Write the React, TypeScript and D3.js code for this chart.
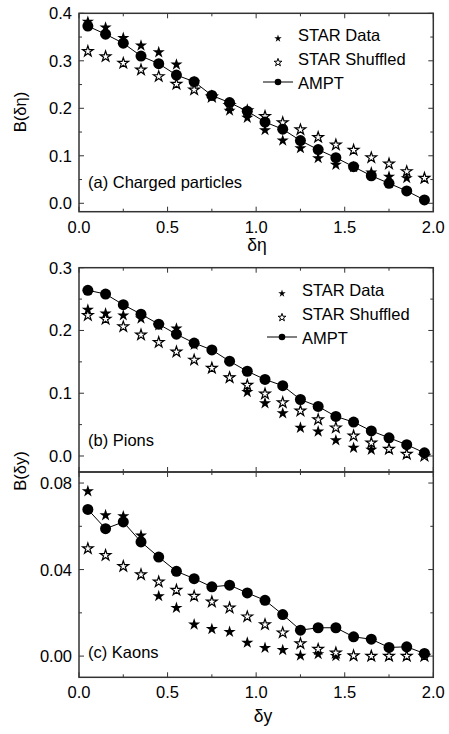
import React from 'react';
import * as d3 from 'd3';

const width = 449;
const height = 734;
const font = '"Liberation Sans", Arial, Helvetica, sans-serif';
const left = 79;
const right = 433.3;

// bin centres (delta eta for (a), delta y for (b) and (c))
const bins = [0.05, 0.15, 0.25, 0.35, 0.45, 0.55, 0.65, 0.75, 0.85, 0.95,
  1.05, 1.15, 1.25, 1.35, 1.45, 1.55, 1.65, 1.75, 1.85, 1.95];

// (a) charged particles
const chargedData = [0.382, 0.370, 0.348, 0.332, 0.318, 0.292, 0.255, 0.225, 0.195, 0.180,
  0.154, 0.132, 0.116, 0.095, 0.081, 0.076, 0.065, 0.056, 0.053, 0.052];
const chargedShuffled = [0.320, 0.309, 0.295, 0.281, 0.267, 0.251, 0.239, 0.224, 0.206, 0.195,
  0.183, 0.170, 0.155, 0.139, 0.123, 0.112, 0.096, 0.083, 0.067, 0.053];
const chargedAmpt = [0.373, 0.356, 0.337, 0.310, 0.294, 0.270, 0.256, 0.227, 0.212, 0.194,
  0.171, 0.156, 0.132, 0.113, 0.096, 0.077, 0.058, 0.042, 0.026, 0.007];

// (b) pions
const pionData = [0.233, 0.227, 0.224, 0.219, 0.208, 0.203, 0.177, 0.140, 0.125, 0.102,
  0.084, 0.068, 0.045, 0.039, 0.025, 0.013, 0.010, 0.011, 0.003, 0.000];
const pionShuffled = [0.224, 0.218, 0.206, 0.193, 0.181, 0.166, 0.153, 0.140, 0.125, 0.113,
  0.099, 0.085, 0.072, 0.058, 0.045, 0.032, 0.021, 0.011, 0.003, 0.000];
const pionAmpt = [0.264, 0.258, 0.241, 0.226, 0.210, 0.194, 0.180, 0.169, 0.151, 0.135,
  0.122, 0.112, 0.090, 0.079, 0.063, 0.054, 0.040, 0.029, 0.018, 0.005];

// (c) kaons
const kaonData = [0.0762, 0.0651, 0.0646, 0.0558, 0.0277, 0.0223, 0.0146, 0.0125, 0.0112, 0.0062,
  0.0038, 0.0028, 0.0002, 0.0009, 0.0000, 0.0000, 0.0000, 0.0000, 0.0000, 0.0000];
const kaonShuffled = [0.0497, 0.0466, 0.0415, 0.0377, 0.0343, 0.0305, 0.0277, 0.0251, 0.0223, 0.0182,
  0.0146, 0.0108, 0.0058, 0.0032, 0.0015, 0.0002, 0.0000, 0.0000, 0.0000, 0.0000];
const kaonAmpt = [0.0678, 0.0589, 0.0620, 0.0528, 0.0458, 0.0392, 0.0358, 0.0320, 0.0328, 0.0292,
  0.0258, 0.0192, 0.0120, 0.0131, 0.0131, 0.0089, 0.0078, 0.0040, 0.0043, 0.0012];

// ticks
const xTicks = [0, 0.5, 1.0, 1.5, 2.0];
const xMinor = [0.25, 0.75, 1.25, 1.75];
const yTicksA = [0, 0.1, 0.2, 0.3, 0.4];
const yMinorA = [0.05, 0.15, 0.25, 0.35];
const yTicksB = [0, 0.1, 0.2, 0.3];
const yMinorB = [0.05, 0.15, 0.25];
const yTicksC = [0, 0.04, 0.08];
const yMinorC = [0.02, 0.06];

const legendLabels = ['STAR Data', 'STAR Shuffled', 'AMPT'];

const xScale = d3.scaleLinear().domain([0, 2]).range([left, right]);

const panels = [
  {
    data: chargedData, shuffled: chargedShuffled, ampt: chargedAmpt,
    yDomain: [-0.0177, 0.4], top: 13.3, bottom: 211.7,
    yTicks: yTicksA, yMinor: yMinorA, fmt: d3.format('.1f'),
    label: '(a) Charged particles', labelY: 188,
    legend: {x: 278, y: 41}, xLabels: true,
  },
  {
    data: pionData, shuffled: pionShuffled, ampt: pionAmpt,
    yDomain: [-0.0255, 0.3], top: 267.7, bottom: 472,
    yTicks: yTicksB, yMinor: yMinorB, fmt: d3.format('.1f'),
    label: '(b) Pions', labelY: 446,
    legend: {x: 282, y: 296}, xLabels: false,
  },
  {
    data: kaonData, shuffled: kaonShuffled, ampt: kaonAmpt,
    yDomain: [-0.0098, 0.0851], top: 472, bottom: 677.3,
    yTicks: yTicksC, yMinor: yMinorC, fmt: d3.format('.2f'),
    label: '(c) Kaons', labelY: 658,
    legend: null, xLabels: true,
  },
];

const starPath = (r) => d3.symbol().type(d3.symbolStar).size((r * r) / 0.8908130915)();
const bigStar = starPath(6.4);
const openStar = starPath(5.6);
const smallStar = starPath(3.9);
const smallOpenStar = starPath(4.1);
const frame = '#333';

function Panel({p}) {
  const y = d3.scaleLinear().domain(p.yDomain).range([p.bottom, p.top]);
  const line = d3.line().x((d, i) => xScale(bins[i])).y(d => y(d));
  const major = 5;
  const minor = 3;

  return (
    <g>
      {/* ticks on all four sides, pointing inward */}
      {xTicks.concat(xMinor).map((t, i) => {
        const len = xTicks.includes(t) ? major : minor;
        return (
          <g key={'x' + i} stroke={frame} strokeWidth={1}>
            <line x1={xScale(t)} x2={xScale(t)} y1={p.bottom} y2={p.bottom - len} />
            <line x1={xScale(t)} x2={xScale(t)} y1={p.top} y2={p.top + len} />
          </g>
        );
      })}
      {p.yTicks.concat(p.yMinor).map((t, i) => {
        const len = p.yTicks.includes(t) ? major : minor;
        return (
          <g key={'y' + i} stroke={frame} strokeWidth={1}>
            <line x1={left} x2={left + len} y1={y(t)} y2={y(t)} />
            <line x1={right} x2={right - len} y1={y(t)} y2={y(t)} />
          </g>
        );
      })}
      <rect x={left} y={p.top} width={right - left} height={p.bottom - p.top}
        fill='none' stroke={frame} strokeWidth={1.5} />

      {p.yTicks.map(t => (
        <text key={t} x={left - 7} y={y(t)} dy='0.36em' textAnchor='end'
          fontSize={16.5} fontFamily={font}>{p.fmt(t)}</text>
      ))}
      {p.xLabels && xTicks.map(t => (
        <text key={t} x={xScale(t)} y={p.bottom + 21} textAnchor='middle'
          fontSize={16.5} fontFamily={font}>{t.toFixed(1)}</text>
      ))}

      <text x={88} y={p.labelY} fontSize={16.5} fontFamily={font}>{p.label}</text>

      {/* STAR data, shuffled, then AMPT on top */}
      {p.data.map((d, i) => (
        <path key={'d' + i} d={bigStar} transform={`translate(${xScale(bins[i])},${y(d)})`} fill='#000' />
      ))}
      {p.shuffled.map((d, i) => (
        <path key={'s' + i} d={openStar} transform={`translate(${xScale(bins[i])},${y(d)})`}
          fill='#fff' stroke='#000' strokeWidth={1.2} strokeLinejoin='miter' />
      ))}
      <path d={line(p.ampt)} fill='none' stroke='#000' strokeWidth={1} />
      {p.ampt.map((d, i) => (
        <circle key={'a' + i} cx={xScale(bins[i])} cy={y(d)} r={5.5} fill='#000' />
      ))}

      {p.legend && (
        <g fontSize={16.5} fontFamily={font}>
          <path d={smallStar} transform={`translate(${p.legend.x},${p.legend.y - 2.5})`} fill='#000' />
          <text x={p.legend.x + 20} y={p.legend.y}>{legendLabels[0]}</text>
          <path d={smallOpenStar} transform={`translate(${p.legend.x},${p.legend.y + 21.5})`}
            fill='#fff' stroke='#000' strokeWidth={1} />
          <text x={p.legend.x + 20} y={p.legend.y + 24}>{legendLabels[1]}</text>
          <line x1={p.legend.x - 15} x2={p.legend.x + 15} y1={p.legend.y + 41} y2={p.legend.y + 41}
            stroke='#000' strokeWidth={1} />
          <circle cx={p.legend.x} cy={p.legend.y + 41} r={3.3} fill='#000' />
          <text x={p.legend.x + 20} y={p.legend.y + 48}>{legendLabels[2]}</text>
        </g>
      )}
    </g>
  );
}

export default function App() {
  return (
    <svg width={width} height={height} style={{position: 'absolute', left: 0, top: 0, background: '#fff'}}>
      {panels.map((p, i) => <Panel key={i} p={p} />)}
      <text x={257} y={251} textAnchor='middle' fontSize={17.5} fontFamily={font}>δη</text>
      <text x={263} y={722} textAnchor='middle' fontSize={17.5} fontFamily={font}>δy</text>
      <text transform='translate(26,112) rotate(-90)' textAnchor='middle' fontSize={16.5} fontFamily={font}>B(δη)</text>
      <text transform='translate(26,471) rotate(-90)' textAnchor='middle' fontSize={16.5} fontFamily={font}>B(δy)</text>
    </svg>
  );
}
